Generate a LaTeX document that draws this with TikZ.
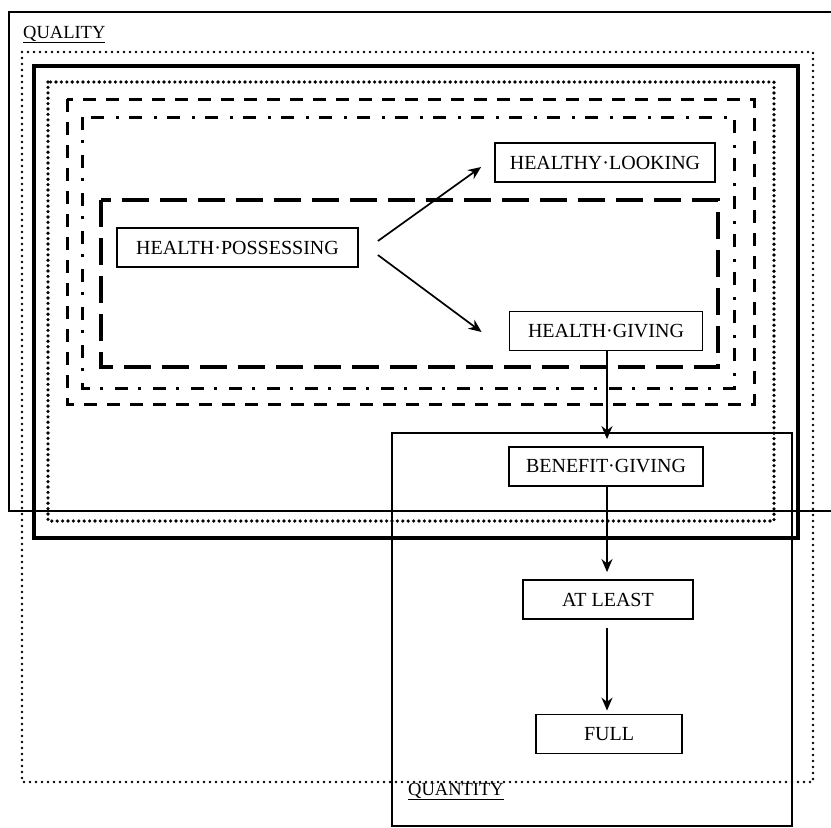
\documentclass[tikz,border=0pt]{standalone}
\usepackage{fontspec}
\setmainfont{Liberation Serif}
\usetikzlibrary{arrows.meta}
\begin{document}
\begin{tikzpicture}[x=1pt,y=-1pt,
  box/.style={draw,fill=white,line width=1.8pt,inner sep=0pt,minimum height=39pt,font=\fontsize{20}{23}\selectfont},
  lbl/.style={inner sep=0pt,anchor=base west,font=\fontsize{18.5}{22}\selectfont},
  conn/.style={line width=1.7pt,-{Stealth[length=13pt,width=11pt]}},
  thinframe/.style={line width=1.8pt},
  lightdots/.style={line width=2.8pt,line cap=round,dash pattern=on 0pt off 6pt},
  bolddots/.style={line width=3.6pt,line cap=round,dash pattern=on 0pt off 5.4pt},
  thickframe/.style={line width=3.8pt},
  shortdash/.style={line width=3pt,dash pattern=on 13pt off 10pt},
  dashdotframe/.style={line width=3pt,dash pattern=on 13pt off 10pt on 3pt off 12pt},
  longdash/.style={line width=3.2pt,dash pattern=on 27pt off 11pt}
]
\useasboundingbox (0,0) rectangle (831,828);
% frames
\draw[thinframe] (831,12) -- (9,12) -- (9,511) -- (831,511);
\draw[lightdots] (22,52) rectangle (813,782);
\draw[thickframe] (34,66) rectangle (798,538);
\draw[bolddots] (48,82) rectangle (774,521);
\draw[shortdash] (67,99) rectangle (754,404);
\draw[dashdotframe] (82,117) rectangle (734,388);
\draw[longdash] (101,200) rectangle (718,367);
\draw[thinframe] (392,433) rectangle (792,826);
% labels
\node[lbl] (qual) at (23,38) {\underline{QUALITY}};
\node[lbl] (quant) at (408,795) {\underline{QUANTITY}};
% nodes
\node[box,minimum width=241pt] (hp) at (237.5,247.5) {HEALTH·POSSESSING};
\node[box,minimum width=220pt] (hl) at (605,162.5) {HEALTHY·LOOKING};
\node[box,minimum width=193pt] (hg) at (606,331) {HEALTH·GIVING};
\node[box,minimum width=194pt] (bg) at (606,466.5) {BENEFIT·GIVING};
\node[box,minimum width=170pt] (al) at (608,599.5) {AT LEAST};
\node[box,minimum width=146pt] (full) at (609,734) {FULL};
% connectors
\draw[conn] ([xshift=19pt,yshift=6.5pt]hp.east) -- ([xshift=-13pt,yshift=-4.5pt]hl.west);
\draw[conn] ([xshift=19pt,yshift=-7.5pt]hp.east) -- ([xshift=-27pt,yshift=-1pt]hg.west);
\draw[conn,shorten >=7pt] ([xshift=1pt]hg.south) -- ([xshift=1pt]hg.south |- bg.north);
\draw[conn,shorten >=7pt] ([xshift=1pt]bg.south) -- ([xshift=1pt]bg.south |- al.north);
\draw[conn,shorten <=8pt,shorten >=3pt] ([xshift=-1pt]al.south) -- ([xshift=-1pt]al.south |- full.north);
\end{tikzpicture}
\end{document}
